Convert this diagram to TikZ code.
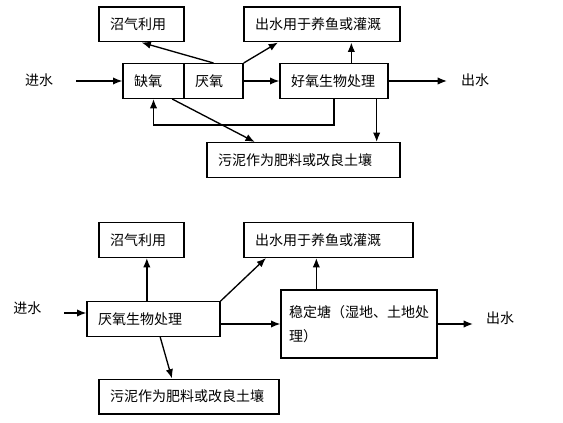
\documentclass[tikz,border=0pt]{standalone}
\usepackage{fontspec}
\setmainfont{Noto Sans CJK SC}
\usetikzlibrary{positioning,arrows.meta}

\begin{document}
\begin{tikzpicture}[->,>={Latex[length=7pt,width=5.5pt]},line width=1pt,x=0.75pt,y=-0.75pt,
                    box node/.style={rectangle,draw,-,align=left,inner xsep=8.25pt,
                      minimum height=26pt,text width=#1,font={\fontsize{10.5}{18}\selectfont}},
                    text node/.style={font={\fontsize{10.5}{18}\selectfont}}]
  \useasboundingbox (0,0) rectangle (563,423);

  % first process
  \node[box node=47.25pt] at (141.5,24.5) (biogas1) {沼气利用};
  \node[box node=100.5pt] at (322,24.5) (fish1) {出水用于养鱼或灌溉};
  \node[box node=29.25pt] at (153.5,81) (anox) {缺氧};
  \node[box node=27.75pt] (anaer1) [right=-1pt of anox] {厌氧};
  \node[box node=64.5pt] at (334,81) (aer) {好氧生物处理};
  \node[box node=128.25pt] at (303.5,160) (sludge1) {污泥作为肥料或改良土壤};
  \node[text node] at (39,80) (in1) {进水};
  \node[text node] at (475,80) (out1) {出水};
  \coordinate (inA) at (76,81);
  \coordinate (outA) at (447,81);

  \draw (inA) -- (anox.west |- inA);
  \draw (anaer1) -- (aer);
  \draw (aer.east) -- (outA);
  \draw (anaer1.north) -- (biogas1.south);
  \draw (anaer1.north east) -- ([xshift=26pt]fish1.south west);
  \draw ([xshift=13pt]aer.north) -- ([xshift=13pt]aer.north |- fish1.south);
  \draw (aer.south) -- ++(0,26) -| (anox.south);
  \draw ([xshift=14pt]anox.south) -- ([xshift=-36.5pt]sludge1.north);
  \draw ([xshift=32pt]aer.south) -- ([xshift=32pt]aer.south |- sludge1.north);

  % second process
  \node[box node=47.25pt] at (141.5,240) (biogas2) {沼气利用};
  \node[box node=110.25pt] at (328.5,240) (fish2) {出水用于养鱼或灌溉};
  \node[box node=83.25pt] at (153.5,319) (anaer2) {厌氧生物处理};
  \node[box node=105pt,inner xsep=6pt,minimum height=51pt] at (359,324) (pond) {稳定塘（湿地、土地处\\理）};
  \node[box node=118.5pt] at (189,396.5) (sludge2) {污泥作为肥料或改良土壤};
  \node[text node] at (27.5,308) (in2) {进水};
  \node[text node] at (500,318) (out2) {出水};
  \coordinate (inB) at (64,313);
  \coordinate (outB) at (473,324);

  \draw (inB) -- (inB -| anaer2.west);
  \draw (pond.west -| anaer2.east) -- (pond.west);
  \draw (pond.east) -- (outB);
  \draw ([xshift=4pt]biogas2.south |- anaer2.north) -- ([xshift=4pt]biogas2.south);
  \draw (anaer2.north east) -- ([xshift=17pt]fish2.south west);
  \draw ([xshift=-32pt]pond.north) -- ([xshift=-32pt]pond.north |- fish2.south);
  \draw ([xshift=5pt]anaer2.south) -- ([xshift=-12.75pt]sludge2.north);

\end{tikzpicture}
\end{document}
